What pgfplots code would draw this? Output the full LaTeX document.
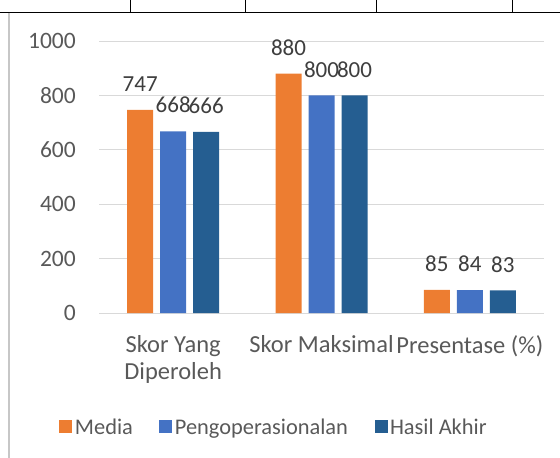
\documentclass[border=0pt]{standalone}
\usepackage{fontspec}
\setmainfont{Carlito}
\usepackage{pgfplots}
\pgfplotsset{compat=1.18}
\definecolor{cOrange}{HTML}{ED7D31}
\definecolor{cBlue}{HTML}{4472C4}
\definecolor{cDark}{HTML}{255E91}
\definecolor{txt}{HTML}{595959}
\definecolor{grd}{HTML}{D9D9D9}
\begin{document}
\begin{tikzpicture}
\useasboundingbox (0bp,0bp) rectangle (560bp,-458bp);
% table border from the page above the chart
\draw[black, line width=1bp] (0bp,-12bp) -- (560bp,-12bp);
\foreach \xx in {130,245,376,512} \draw[black, line width=1bp] (\xx bp,0bp) -- (\xx bp,-12bp);
\draw[grd!80!gray, line width=1.5bp] (9bp,-12.5bp) -- (9bp,-458bp);
\begin{axis}[
  at={(99bp,-313bp)}, anchor=south west,
  scale only axis, width=445bp, height=272bp,
  ymin=0, ymax=1000, xmin=-0.5, xmax=2.5,
  ybar=7bp, bar width=26bp,
  ytick={0,200,...,1000},
  xtick={0,1,2},
  xticklabels={{Skor Yang\\Diperoleh},{Skor Maksimal},{Presentase (\%)}},
  axis line style={draw=none},
  major tick length=0pt,
  ymajorgrids, grid style={grd, line width=1bp},
  /pgf/number format/assume math mode=true,
  /pgf/number format/1000 sep={},
  yticklabel style={font=\fontsize{23.5bp}{27bp}\selectfont, color=txt, anchor=east, inner sep=0pt, xshift=-23bp},
  xticklabel style={font=\fontsize{24.5bp}{27bp}\selectfont, color=txt, anchor=north, inner sep=0pt, yshift=-22bp, align=center},
  nodes near coords,
  every node near coord/.append style={font=\fontsize{23bp}{27bp}\selectfont, color=txt!70!black, anchor=south, inner sep=0pt, yshift=18bp},
  legend columns=3,
  legend style={at={(0.394,-0.419)}, anchor=center, draw=none, fill=none,
    font=\fontsize{22.4bp}{25bp}\selectfont, text=txt,
    /tikz/every even column/.append style={column sep=24bp},
    nodes={inner xsep=2.5bp, inner ysep=0pt}},
  legend cell align=left,
]
\addplot[fill=cOrange, draw=none, legend image code/.code={\fill[cOrange] (0bp,-6.5bp) rectangle (13bp,6.5bp);}]
  coordinates {(0,747) (1,880) (2,85)};
\addlegendentry{Media}
\addplot[fill=cBlue, draw=none, legend image code/.code={\fill[cBlue] (0bp,-6.5bp) rectangle (13bp,6.5bp);}]
  coordinates {(0,668) (1,800) (2,84)};
\addlegendentry{Pengoperasionalan}
\addplot[fill=cDark, draw=none, legend image code/.code={\fill[cDark] (0bp,-6.5bp) rectangle (13bp,6.5bp);}]
  coordinates {(0,666) (1,800) (2,83)};
\addlegendentry{Hasil Akhir}
\end{axis}
\end{tikzpicture}
\end{document}
